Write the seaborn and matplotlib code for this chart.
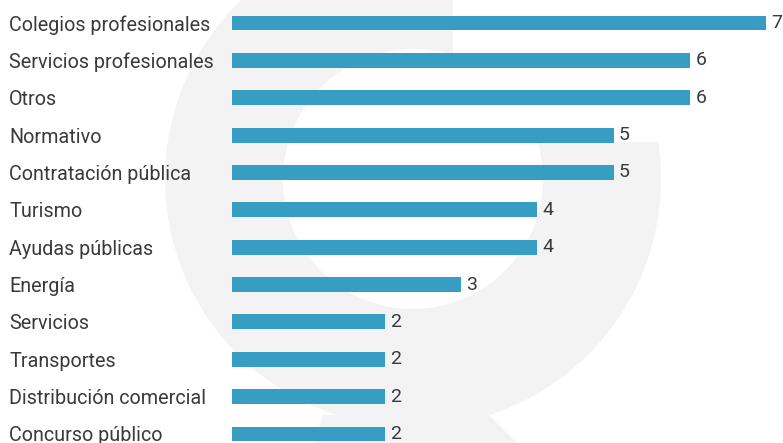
import matplotlib
matplotlib.use("Agg")
import matplotlib.pyplot as plt
import seaborn as sns
import pandas as pd
from matplotlib.patches import Wedge, Rectangle, Polygon

# datos
categorias = [
    "Colegios profesionales",
    "Servicios profesionales",
    "Otros",
    "Normativo",
    "Contratación pública",
    "Turismo",
    "Ayudas públicas",
    "Energía",
    "Servicios",
    "Transportes",
    "Distribución comercial",
    "Concurso público",
]
valores = [7, 6, 6, 5, 5, 4, 4, 3, 2, 2, 2, 2]

df = pd.DataFrame({"categoria": categorias, "valor": valores})

sns.set_style("white")
plt.rcParams["font.family"] = ["Roboto", "DejaVu Sans"]

W, H = 783, 443
fig = plt.figure(figsize=(W / 100, H / 100), dpi=100)

# marca de agua (logo gris de fondo), en píxeles
bg = fig.add_axes([0, 0, 1, 1])
bg.set_xlim(0, W)
bg.set_ylim(H, 0)
bg.axis("off")
gris = "#f3f3f3"
bg.add_patch(Wedge((413, 179), 248, 0, 360, width=118, color=gris, lw=0))
bg.add_patch(Rectangle((453, -10), 250, 152, color="white", lw=0))
bg.add_patch(Polygon([(313, 443), (323, 415), (487, 413), (517, 443)], color=gris, lw=0))

ax = fig.add_axes([232 / W, 0, (W - 232) / W, 1])
ax.patch.set_alpha(0)
sns.barplot(data=df, x="valor", y="categoria", orient="h", color="#379dc2",
            width=0.4, saturation=1, linewidth=0, ax=ax)

ax.set_xlim(0, (W - 232) / 76.3)
ax.set_ylim(11 + 9 / 37.36, -23 / 37.36)

for c in ax.containers:
    ax.bar_label(c, padding=4, fontsize=14, color="#3a3a3a")

ax.set_xlabel("")
ax.set_ylabel("")
ax.set_xticks([])
ax.tick_params(axis="y", length=0, pad=(232 - 9) * 0.72, labelsize=14.2, labelcolor="#3a3a3a")
for t in ax.get_yticklabels():
    t.set_ha("left")
sns.despine(ax=ax, left=True, bottom=True)

fig.savefig("out.png", dpi=100)
